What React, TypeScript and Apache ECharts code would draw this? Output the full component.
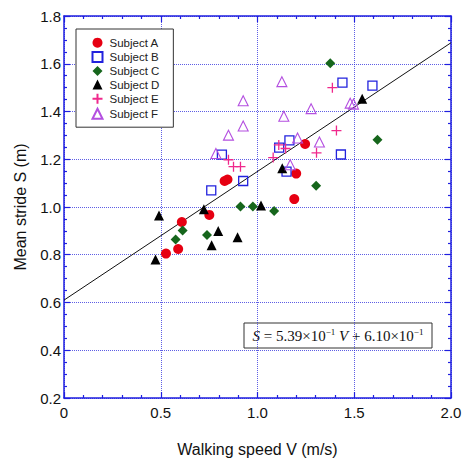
import { useEffect, useRef } from "react";
import * as echarts from "echarts";

// Subject data: walking speed V (m/s) and mean stride S (m)
const subjectAV = [0.527, 0.59, 0.609, 0.751, 0.83, 0.845, 1.19, 1.2, 1.246];
const subjectAS = [0.805, 0.824, 0.937, 0.967, 1.109, 1.115, 1.033, 1.14, 1.264];

const subjectBV = [0.761, 0.816, 0.926, 1.112, 1.15, 1.165, 1.431, 1.439, 1.594];
const subjectBS = [1.07, 1.219, 1.109, 1.249, 1.148, 1.279, 1.22, 1.521, 1.508];

const subjectCV = [0.577, 0.613, 0.739, 0.912, 0.976, 1.086, 1.303, 1.376, 1.62];
const subjectCS = [0.864, 0.902, 0.883, 1.002, 1.002, 0.983, 1.089, 1.602, 1.282];

const subjectDV = [0.473, 0.491, 0.723, 0.763, 0.797, 0.897, 1.018, 1.128, 1.541];
const subjectDS = [0.78, 0.964, 0.991, 0.84, 0.9, 0.873, 1.006, 1.162, 1.453];

const subjectEV = [0.85, 0.876, 0.912, 1.081, 1.11, 1.145, 1.305, 1.387, 1.408];
const subjectES = [1.198, 1.169, 1.169, 1.207, 1.26, 1.245, 1.227, 1.5, 1.32];

const subjectFV = [0.785, 0.85, 0.926, 0.926, 1.126, 1.136, 1.169, 1.207, 1.277, 1.32, 1.479, 1.496];
const subjectFS = [1.224, 1.301, 1.339, 1.445, 1.525, 1.38, 1.177, 1.289, 1.412, 1.272, 1.435, 1.431];

// Regression line S = 0.539 V + 0.610, endpoints
const fitV = [0, 2.0];
const fitS = [0.61, 1.688];

const subjectNames = ["Subject A", "Subject B", "Subject C", "Subject D", "Subject E", "Subject F"];

const zip = (xs: number[], ys: number[]) => xs.map((x, i) => [x, ys[i]]);

const AXIS_BLUE = "#1f1fe0";
const GRID_BLUE = "rgba(40,40,220,0.75)";

export default function App() {
  const ref = useRef<HTMLDivElement>(null);
  useEffect(() => {
    document.body.style.margin = "0";
    if (!ref.current) return;
    const chart = echarts.init(ref.current, null, { renderer: "svg" });
    const fontSans = "'Liberation Sans', Arial, sans-serif";
    const baseAxis = {
      type: "value" as const,
      axisLine: { show: true, onZero: false, lineStyle: { color: AXIS_BLUE, width: 1.5 } },
      axisTick: { show: true, inside: true, length: 6, lineStyle: { color: AXIS_BLUE, width: 1.2 } },
      minorTick: { show: true, length: 3, lineStyle: { color: AXIS_BLUE, width: 1.2 } },
    };
    const plusPath = "path://M0,5L10,5M5,0L5,10";
    chart.setOption({
      animation: false,
      backgroundColor: "#fff",
      grid: { left: 64, right: 17, top: 16, bottom: 59, containLabel: false },
      xAxis: [
        {
          ...baseAxis,
          min: 0,
          max: 2.0,
          interval: 0.5,
          position: "bottom",
          minorTick: { ...baseAxis.minorTick, splitNumber: 5 },
          axisLabel: {
            fontFamily: fontSans,
            fontSize: 15,
            color: "#111",
            margin: 7,
            formatter: (v: number) => (v === 0 ? "0" : v.toFixed(1)),
          },
          splitLine: { show: true, lineStyle: { color: GRID_BLUE, type: [1, 1], width: 1 } },
          name: "Walking speed V (m/s)",
          nameLocation: "middle",
          nameGap: 43,
          nameTextStyle: { fontFamily: fontSans, fontSize: 16, color: "#111" },
        },
        {
          ...baseAxis,
          min: 0,
          max: 2.0,
          interval: 0.5,
          position: "top",
          minorTick: { ...baseAxis.minorTick, splitNumber: 5 },
          axisLabel: { show: false },
          splitLine: { show: false },
        },
      ],
      yAxis: [
        {
          ...baseAxis,
          min: 0.2,
          max: 1.8,
          interval: 0.2,
          position: "left",
          minorTick: { ...baseAxis.minorTick, splitNumber: 4 },
          axisLabel: {
            fontFamily: fontSans,
            fontSize: 15,
            color: "#111",
            margin: 3,
            formatter: (v: number) => v.toFixed(1),
          },
          splitLine: { show: true, lineStyle: { color: GRID_BLUE, type: [1, 1], width: 1 } },
          name: "Mean stride S (m)",
          nameLocation: "middle",
          nameGap: 36,
          nameTextStyle: { fontFamily: fontSans, fontSize: 16, color: "#111" },
        },
        {
          ...baseAxis,
          min: 0.2,
          max: 1.8,
          interval: 0.2,
          position: "right",
          minorTick: { ...baseAxis.minorTick, splitNumber: 4 },
          axisLabel: { show: false },
          splitLine: { show: false },
        },
      ],
      legend: {
        orient: "vertical",
        left: 76,
        top: 29,
        padding: [7, 14, 6, 14],
        itemGap: 0,
        itemWidth: 10,
        itemHeight: 10,
        backgroundColor: "#fff",
        borderColor: "#333",
        borderWidth: 1,
        textStyle: { fontFamily: fontSans, fontSize: 11.5, color: "#222", lineHeight: 13.4, padding: [0, 0, 0, 2] },
        data: subjectNames,
      },
      series: [
        {
          name: "Fit",
          type: "line",
          data: zip(fitV, fitS),
          symbol: "none",
          lineStyle: { color: "#111", width: 1 },
          z: 1,
          silent: true,
        },
        {
          name: subjectNames[0],
          type: "scatter",
          data: zip(subjectAV, subjectAS),
          symbol: "circle",
          symbolSize: 10,
          itemStyle: { color: "#e60012", opacity: 1 },
          z: 3,
        },
        {
          name: subjectNames[1],
          type: "scatter",
          data: zip(subjectBV, subjectBS),
          symbol: "rect",
          symbolSize: 9,
          itemStyle: { color: "none", borderColor: "#2222dd", borderWidth: 1.3, opacity: 1 },
          z: 3,
        },
        {
          name: subjectNames[2],
          type: "scatter",
          data: zip(subjectCV, subjectCS),
          symbol: "diamond",
          symbolSize: 10,
          itemStyle: { color: "#16661c", opacity: 1 },
          z: 3,
        },
        {
          name: subjectNames[3],
          type: "scatter",
          data: zip(subjectDV, subjectDS),
          symbol: "triangle",
          symbolSize: 10,
          itemStyle: { color: "#000", opacity: 1 },
          z: 3,
        },
        {
          name: subjectNames[4],
          type: "scatter",
          data: zip(subjectEV, subjectES),
          symbol: plusPath,
          symbolSize: 10,
          itemStyle: { color: "none", borderColor: "#f0288c", borderWidth: 1.3, opacity: 1 },
          z: 3,
        },
        {
          name: subjectNames[5],
          type: "scatter",
          data: zip(subjectFV, subjectFS),
          symbol: "triangle",
          symbolSize: 10,
          itemStyle: { color: "none", borderColor: "#b44fe0", borderWidth: 1.1, opacity: 1 },
          z: 3,
        },
      ],
      graphic: [
        {
          type: "group",
          z: 100,
          children: [
            {
              type: "rect",
              shape: { x: 244, y: 323, width: 188, height: 25 },
              style: { fill: "#fff", stroke: "#333", lineWidth: 1 },
            },
            {
              type: "text",
              x: 338,
              y: 336,
              style: {
                text: "{i|S} = 5.39×10{s|−1} {i|V} + 6.10×10{s|−1}",
                fontFamily: "'Liberation Serif', 'Times New Roman', serif",
                fontSize: 15,
                fill: "#111",
                align: "center",
                verticalAlign: "middle",
                lineHeight: 18,
                rich: {
                  i: { fontFamily: "'Liberation Serif', serif", fontStyle: "italic", fontSize: 15, lineHeight: 18 },
                  s: { fontFamily: "'Liberation Serif', serif", fontSize: 9, lineHeight: 18, verticalAlign: "top", padding: [0, 0, 8, 0] },
                },
              },
            },
          ],
        },
      ],
    });
    return () => chart.dispose();
  }, []);
  return <div ref={ref} style={{ width: 468, height: 462 }} />;
}
